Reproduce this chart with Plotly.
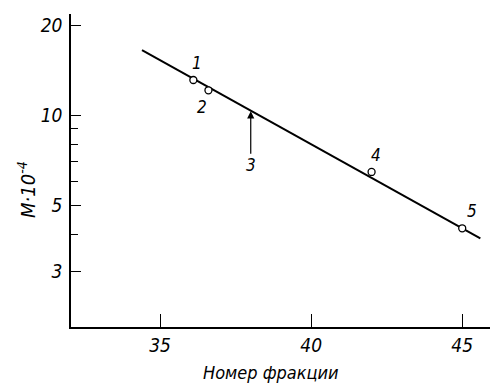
import math
import plotly.graph_objects as go

# Data
point_x = [36.1, 36.6, 42.0, 45.0]
point_y = [13.1, 12.1, 6.45, 4.18]
point_labels = ["1", "2", "4", "5"]
line_x = [34.4, 45.6]
line_y = [16.5, 3.87]
arrow_x = 38.0
arrow_y = 10.3
arrow_label = "3"
x_ticks = [35, 40, 45]
y_major = [3, 5, 10, 20]
y_minor = [4, 6, 7, 8, 9]

FONT = "Liberation Sans Narrow, DejaVu Sans Condensed, Liberation Sans, sans-serif"

fig = go.Figure()
fig.add_trace(go.Scatter(x=line_x, y=line_y, mode="lines",
                         line=dict(color="black", width=2), hoverinfo="skip"))
fig.add_trace(go.Scatter(x=point_x, y=point_y, mode="markers",
                         marker=dict(symbol="circle", size=7, color="white",
                                     line=dict(color="black", width=1.3))))

label_shift = [(4, 17), (-6, -17), (4, 17), (10, 17)]
ann = []
for x, y, t, (dx, dy) in zip(point_x, point_y, point_labels, label_shift):
    ann.append(dict(x=x, y=math.log10(y), xref="x", yref="y", text=t,
                    showarrow=False, xshift=dx, yshift=dy,
                    xanchor="center", yanchor="middle",
                    font=dict(size=17, family=FONT, color="black", style="italic")))
ann.append(dict(x=arrow_x, y=math.log10(arrow_y), xref="x", yref="y", text=arrow_label,
                showarrow=True, ax=0, ay=54, arrowhead=2, arrowsize=1.2, arrowwidth=1.2,
                arrowcolor="black", standoff=0,
                font=dict(size=17, family=FONT, color="black", style="italic")))
ann.append(dict(x=0.477, y=-0.144, xref="paper", yref="paper", text="Номер фракции",
                xanchor="center", yanchor="middle",
                showarrow=False, font=dict(size=18, family=FONT, color="black", style="italic")))
ann.append(dict(x=-0.105, y=0.438, xref="paper", yref="paper", text="M·10<sup>-4</sup>",
                textangle=-90, showarrow=False, xanchor="center", yanchor="middle",
                font=dict(size=20, family=FONT, color="black", style="italic")))

fig.update_layout(
    width=490, height=383,
    margin=dict(l=71, r=0, t=14, b=56),
    paper_bgcolor="white", plot_bgcolor="white",
    showlegend=False,
    font=dict(family=FONT, size=19, color="black", style="italic"),
    annotations=ann,
    xaxis=dict(range=[32.05, 45.92], tickmode="array", tickvals=x_ticks,
               ticks="inside", ticklen=13, tickwidth=1.3, tickcolor="black",
               showline=True, linecolor="black", linewidth=1.6,
               showgrid=False, zeroline=False, ticklabelstandoff=0),
    yaxis=dict(type="log", range=[math.log10(1.954), math.log10(21.78)],
               tickmode="array", tickvals=y_major, ticktext=[str(v) for v in y_major],
               ticks="inside", ticklen=10, tickwidth=1.3, tickcolor="black",
               minor=dict(tickmode="array", tickvals=y_minor, ticks="inside",
                          ticklen=7, tickwidth=1.3, tickcolor="black", showgrid=False),
               showline=True, linecolor="black", linewidth=1.6,
               showgrid=False, zeroline=False, ticklabelstandoff=3),
)

fig.write_html("out.html")
